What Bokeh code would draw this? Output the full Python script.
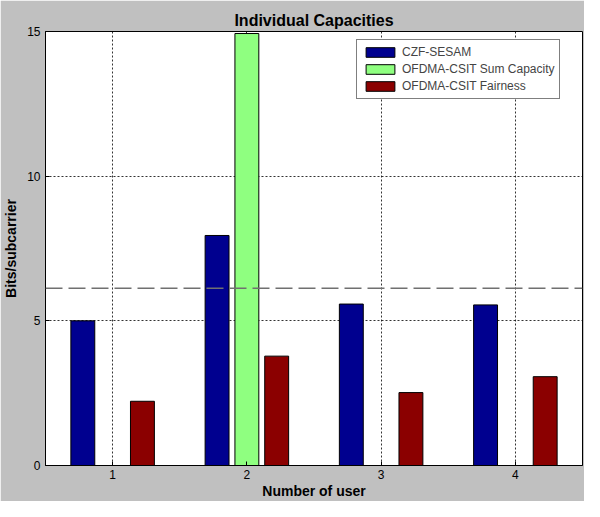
from bokeh.plotting import figure
from bokeh.models import Span, Legend, LegendItem, FixedTicker, ColumnDataSource, Range1d
from bokeh.transform import dodge
from bokeh.embed import file_html
from bokeh.resources import INLINE

# ---- data ----
users = [1, 2, 3, 4]
czf_sesam = [5.0, 7.95, 5.58, 5.55]
ofdma_sum_capacity = [0.0, 14.93, 0.0, 0.0]
ofdma_fairness = [2.22, 3.78, 2.52, 3.07]
reference_level = 6.13
x_tick_labels = ["1", "2", "3", "4"]
y_ticks = [0, 5, 10, 15]

series_names = ["CZF-SESAM", "OFDMA-CSIT Sum Capacity", "OFDMA-CSIT Fairness"]
colors = ["#00008F", "#8FFF80", "#8B0000"]

FONT = "Liberation Sans"

src = ColumnDataSource(dict(user=users, czf=czf_sesam, sumcap=ofdma_sum_capacity, fair=ofdma_fairness))

p = figure(width=584, height=501, output_backend="svg", toolbar_location=None,
           x_range=Range1d(0.5, 4.5), y_range=Range1d(0, 15),
           title="Individual Capacities",
           min_border_left=45, min_border_right=2, min_border_top=31, min_border_bottom=34)

p.border_fill_color = "#C0C0C0"
p.background_fill_color = "white"
p.outline_line_color = "black"
p.outline_line_width = 1

p.title.align = "center"
p.title.text_font = FONT
p.title.text_font_size = "16px"
p.title.text_font_style = "bold"
p.title.text_color = "black"
p.title.standoff = 6

offset = 0.222
bw = 0.178
r1 = p.vbar(x=dodge("user", -offset, range=p.x_range), top="czf", width=bw, source=src,
            fill_color=colors[0], line_color="black", line_width=1)
r2 = p.vbar(x=dodge("user", 0.0, range=p.x_range), top="sumcap", width=bw, source=src,
            fill_color=colors[1], line_color="black", line_width=1)
r3 = p.vbar(x=dodge("user", offset, range=p.x_range), top="fair", width=bw, source=src,
            fill_color=colors[2], line_color="black", line_width=1)

p.add_layout(Span(location=reference_level, dimension="width", line_color="#707070",
                  line_width=1.5, line_dash="17 6"))

# axes
p.xaxis.ticker = FixedTicker(ticks=users)
p.xaxis.major_label_overrides = {u: l for u, l in zip(users, x_tick_labels)}
p.yaxis.ticker = FixedTicker(ticks=y_ticks)
for ax in (p.xaxis[0], p.yaxis[0]):
    ax.major_tick_in = 4
    ax.major_tick_out = 0
    ax.minor_tick_in = 0
    ax.minor_tick_out = 0
    ax.axis_line_color = "black"
    ax.major_tick_line_color = "black"
    ax.major_label_text_font = FONT
    ax.major_label_text_font_size = "12px"
    ax.major_label_text_color = "black"
    ax.axis_label_text_font = FONT
    ax.axis_label_text_font_size = "14px"
    ax.axis_label_text_font_style = "bold"
    ax.axis_label_text_color = "black"
p.xaxis.axis_label = "Number of user"
p.yaxis.axis_label = "Bits/subcarrier"
p.xaxis.major_label_standoff = 4
p.xaxis.axis_label_standoff = 1
p.yaxis.major_label_standoff = 5
p.yaxis.axis_label_standoff = 5

p.xgrid.ticker = FixedTicker(ticks=users)
p.ygrid.ticker = FixedTicker(ticks=y_ticks)
p.grid.grid_line_color = "black"
p.grid.grid_line_alpha = 0.8
p.grid.grid_line_dash = "2 2"
p.grid.grid_line_width = 1

legend = Legend(items=[LegendItem(label=series_names[0], renderers=[r1]),
                       LegendItem(label=series_names[1], renderers=[r2]),
                       LegendItem(label=series_names[2], renderers=[r3])],
                location="top_right", margin=0, padding=5, spacing=3,
                glyph_width=36, glyph_height=12, label_height=12, label_width=150,
                label_standoff=4,
                label_text_font=FONT, label_text_font_size="12px",
                border_line_color="black", border_line_width=1,
                background_fill_color="white", background_fill_alpha=1.0)
legend.location = (311, 366)
p.add_layout(legend)

open("out.html", "w").write(file_html(p, INLINE))
